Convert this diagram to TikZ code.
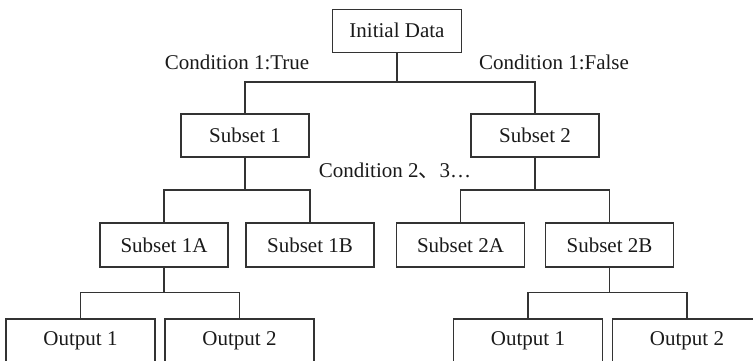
\documentclass[tikz,border=0pt]{standalone}
\usepackage{fontspec}
\setmainfont{Liberation Serif}
\newfontfamily\cjk{Noto Sans CJK SC}
\definecolor{ink}{HTML}{333333}
\definecolor{txt}{HTML}{1A1A1A}
\begin{document}
\begin{tikzpicture}[x=1pt,y=-1pt,
  every node/.style={font=\fontsize{21}{24}\selectfont, text=txt},
  box/.style={draw=ink, line width=1.2pt, inner sep=0pt, minimum height=43pt},
  sbox/.style={box, minimum width=128pt},
  obox/.style={box, minimum width=149pt},
  link/.style={draw=ink, line width=1.2pt}]
\useasboundingbox (0,0) rectangle (753,360);
\clip (0,0) rectangle (753,360);

% level 0
\node[box, minimum width=129pt] (init) at (397,30.8) {Initial Data};
\node (condT) at (237,62) {Condition 1:True};
\node (condF) at (554,62) {Condition 1:False};

% level 1
\node[sbox] (s1) at (245,135.5) {Subset 1};
\node[sbox] (s2) at (535,135.5) {Subset 2};
\node (cond2) at (395,171) {Condition 2{\cjk 、}3…};

% level 2
\node[sbox, minimum height=44pt] (s1a) at (164,245) {Subset 1A};
\node[sbox, minimum height=44pt] (s1b) at (310,245) {Subset 1B};
\node[sbox, minimum height=44pt] (s2a) at (460.5,245) {Subset 2A};
\node[sbox, minimum height=44pt] (s2b) at (609.5,245) {Subset 2B};

% level 3
\node[obox] (o1) at (80.5,340.5) {Output 1};
\node[obox] (o2) at (239.5,340.5) {Output 2};
\node[obox] (o3) at (528,340.5) {Output 1};
\node[obox] (o4) at (687,340.5) {Output 2};

% junction points
\coordinate (j0) at (397,82);
\coordinate (j1) at (245,190);
\coordinate (j2) at (535,190);
\coordinate (j3) at (164,292.5);
\coordinate (j4) at (609.5,292.5);

% connectors
\draw[link] (init.south) -- (j0);
\draw[link] (s1.north) |- (j0) -| (s2.north);
\draw[link] (s1.south) -- (j1);
\draw[link] (s1a.north) |- (j1) -| (s1b.north);
\draw[link] (s2.south) -- (j2);
\draw[link] (s2a.north) |- (j2) -| (s2b.north);
\draw[link] (s1a.south) -- (j3);
\draw[link] (o1.north) |- (j3) -| (o2.north);
\draw[link] (s2b.south) -- (j4);
\draw[link] (o3.north) |- (j4) -| (o4.north);
\end{tikzpicture}
\end{document}
